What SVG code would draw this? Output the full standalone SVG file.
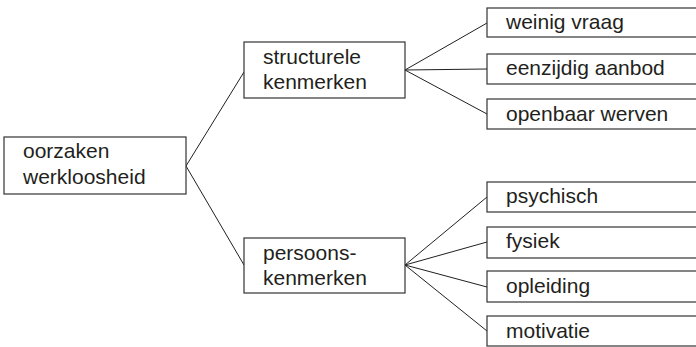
<svg xmlns="http://www.w3.org/2000/svg" width="696" height="347" viewBox="0 0 696 347">
<style>
.box{fill:#fff;stroke:#333;stroke-width:1.2}
.t{font-family:"Liberation Sans",Arial,sans-serif;font-size:21px;fill:#231f20}
.c{stroke:#231f20;stroke-width:1;fill:none}
</style>
<rect width="696" height="347" fill="#fff"/>
<g id="connectors">
<path class="c" d="M186,166 L244,72 M186,166 L244,265"/>
<path class="c" d="M405,70 L487,23 M405,70 L487,69 M405,70 L487,114"/>
<path class="c" d="M405,265 L487,197 M405,265 L487,242 M405,265 L487,287 M405,265 L487,331"/>
</g>
<g id="oorzaken"><rect class="box" x="4" y="137" width="182" height="57"/><text class="t" x="23" y="158">oorzaken</text><text class="t" x="23" y="184">werkloosheid</text></g>
<g id="structurele"><rect class="box" x="244" y="42" width="161" height="56"/><text class="t" x="263" y="64">structurele</text><text class="t" x="263" y="89">kenmerken</text></g>
<g id="persoons"><rect class="box" x="244" y="238" width="161" height="55"/><text class="t" x="263" y="260">persoons-</text><text class="t" x="263" y="285">kenmerken</text></g>
<g id="weinig"><rect class="box" x="487" y="8" width="220" height="29"/><text class="t" x="506" y="29">weinig vraag</text></g>
<g id="eenzijdig"><rect class="box" x="487" y="54" width="220" height="30"/><text class="t" x="506" y="75">eenzijdig aanbod</text></g>
<g id="openbaar"><rect class="box" x="487" y="99" width="220" height="30"/><text class="t" x="506" y="121">openbaar werven</text></g>
<g id="psychisch"><rect class="box" x="487" y="182" width="220" height="30"/><text class="t" x="506" y="203">psychisch</text></g>
<g id="fysiek"><rect class="box" x="487" y="227" width="220" height="31"/><text class="t" x="506" y="248">fysiek</text></g>
<g id="opleiding"><rect class="box" x="487" y="271" width="220" height="31"/><text class="t" x="506" y="293">opleiding</text></g>
<g id="motivatie"><rect class="box" x="487" y="316" width="220" height="30"/><text class="t" x="506" y="338">motivatie</text></g>
</svg>
